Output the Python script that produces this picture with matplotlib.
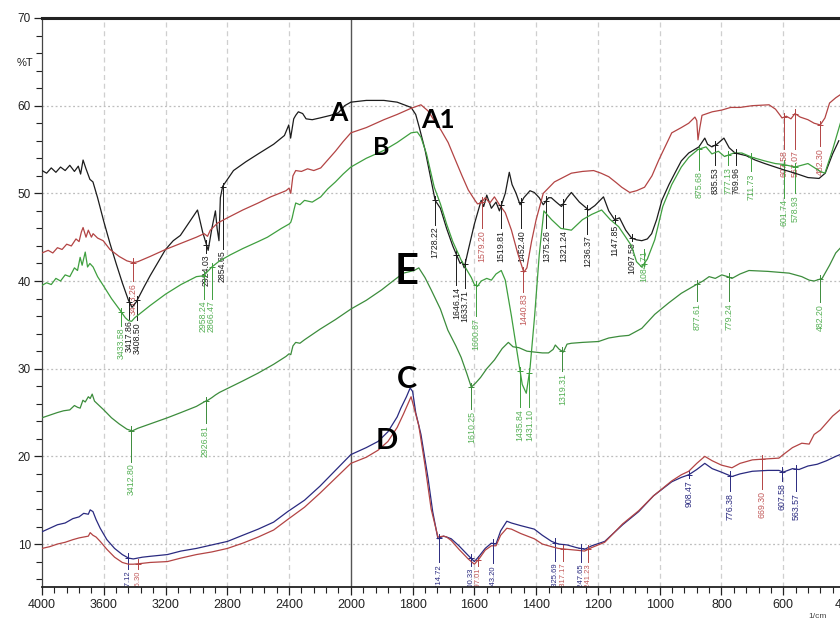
import matplotlib.pyplot as plt
import numpy as np
from matplotlib.ticker import FixedLocator

# spectra: wavenumber (1/cm) and %T
a_wn = [4000, 3970, 3940, 3910, 3880, 3850, 3820, 3790, 3765, 3750, 3734, 3715, 3690, 3670, 3640,
        3600, 3560, 3520, 3480, 3440, 3417, 3390, 3340, 3300, 3250, 3200, 3150, 3104, 3050, 2993,
        2960, 2924, 2900, 2877, 2866, 2854, 2845, 2830, 2760, 2680, 2600, 2500, 2430, 2402, 2390,
        2370, 2357, 2340, 2312, 2290, 2250, 2200, 2130, 2080, 2040, 2000, 1950, 1893, 1850, 1805,
        1790, 1779, 1760, 1740, 1727, 1710, 1690, 1670, 1646, 1640, 1633, 1620, 1600, 1578, 1570,
        1560, 1545, 1530, 1519, 1500, 1487, 1478, 1465, 1452, 1440, 1420, 1406, 1390, 1377, 1360,
        1351, 1335, 1318, 1300, 1286, 1260, 1230, 1210, 1182, 1165, 1146, 1130, 1110, 1091, 1075,
        1058, 1040, 1026, 1010, 993, 970, 951, 930, 906, 873, 854, 845, 831, 815, 792, 775, 756,
        720, 691, 660, 626, 600, 562, 520, 484, 464, 440, 420]
a_t = [52.6, 52.3, 52.9, 52.4, 53.0, 52.6, 53.2, 52.5, 53.1, 52.2, 53.8, 52.8, 51.6, 51.3, 49.5,
       46.8, 44.3, 42.0, 39.8, 37.8, 37.0, 37.6, 39.3, 40.6, 42.1, 43.6, 44.6, 45.2, 46.6, 48.1,
       45.6, 43.5, 46.0, 48.0, 46.0, 44.6, 49.5, 50.8, 52.6, 53.6, 54.5, 55.6, 56.6, 57.8, 56.3,
       58.5, 58.9, 59.3, 59.1, 58.5, 58.4, 58.6, 58.9, 59.2, 60.0, 60.4, 60.6, 60.6, 60.4, 59.8,
       59.0, 57.6, 55.0, 51.5, 49.2, 48.3, 46.0, 44.0, 42.0, 42.2, 41.5, 43.5, 46.5, 49.2, 48.5,
       49.8, 48.3, 49.0, 48.0, 50.0, 52.4, 51.0, 50.0, 48.7, 49.5, 50.3, 50.1, 49.5, 48.7, 49.5,
       49.5, 49.0, 48.5, 49.5, 50.1, 49.0, 48.1, 48.6, 49.6, 48.0, 47.0, 47.2, 45.8, 44.9, 44.7,
       44.6, 44.8, 45.4, 47.0, 49.2, 51.0, 52.3, 53.7, 54.6, 55.3, 56.3, 55.6, 55.3, 55.6, 56.3,
       55.2, 54.6, 54.3, 53.8, 53.4, 53.0, 52.7, 52.3, 51.8, 51.7, 52.3, 54.5, 56.0]

a1_wn = [4000, 3960, 3930, 3900, 3870, 3840, 3810, 3780, 3760, 3745, 3734, 3715, 3700, 3680, 3669,
         3640, 3604, 3560, 3500, 3450, 3409, 3380, 3300, 3200, 3100, 3000, 2950, 2928, 2910, 2864,
         2800, 2700, 2600, 2519, 2420, 2400, 2389, 2375, 2357, 2320, 2280, 2240, 2195, 2150, 2100,
         2050, 2000, 1950, 1893, 1850, 1805, 1773, 1750, 1730, 1708, 1685, 1665, 1640, 1620, 1600,
         1590, 1578, 1565, 1550, 1535, 1519, 1500, 1480, 1460, 1440, 1430, 1415, 1400, 1377, 1341,
         1286, 1250, 1214, 1190, 1165, 1140, 1123, 1097, 1075, 1049, 1025, 1003, 980, 961, 930,
         906, 886, 880, 876, 870, 863, 830, 799, 770, 740, 700, 646, 625, 610, 604, 590, 575, 562,
         545, 520, 500, 480, 465, 450, 430, 409]
a1_t = [43.2, 43.5, 43.2, 43.8, 43.6, 44.2, 44.0, 44.8, 44.5, 45.6, 46.1, 45.0, 45.8, 45.0, 45.4,
        44.9, 44.6, 43.6, 42.8, 42.3, 42.1, 42.2, 42.8, 43.6, 44.3, 45.0, 45.4, 45.1, 45.8, 46.6,
        47.2, 48.1, 48.9, 49.6, 50.3, 50.6, 50.0, 52.0, 52.6, 52.5, 52.8, 52.6, 52.9, 53.8, 54.8,
        55.9, 56.9, 57.5, 58.4, 59.0, 59.7, 60.1, 59.4, 58.3, 57.2, 55.8, 54.1, 52.0, 50.4, 49.3,
        48.8, 48.9, 49.5, 48.9, 49.6, 48.7, 47.8, 45.8, 43.2, 41.0, 41.5, 44.5, 47.0, 50.0, 51.3,
        52.3, 52.5, 52.6, 52.3, 51.9, 51.2, 50.7, 50.1, 50.3, 50.7, 52.0, 53.8, 55.5, 56.9, 57.5,
        58.0, 58.7, 58.3, 56.1, 57.5, 58.9, 59.3, 59.5, 59.8, 59.8, 60.0, 60.1, 59.6, 58.9, 58.6,
        58.8, 58.5, 59.1, 58.7, 58.4, 58.0, 57.8, 58.6, 60.3, 60.9, 61.4]

b_wn = [4000, 3970, 3940, 3910, 3880, 3850, 3820, 3790, 3770, 3753, 3740, 3720, 3705, 3690, 3669,
        3640, 3600, 3550, 3500, 3460, 3441, 3420, 3400, 3300, 3200, 3100, 3000, 2954, 2900, 2850,
        2779, 2700, 2600, 2540, 2450, 2400, 2389, 2380, 2370, 2357, 2330, 2300, 2250, 2195, 2150,
        2100, 2050, 2000, 1950, 1893, 1850, 1805, 1785, 1773, 1755, 1730, 1710, 1690, 1670, 1643,
        1625, 1610, 1600, 1590, 1578, 1560, 1545, 1530, 1513, 1500, 1480, 1460, 1445, 1432, 1420,
        1405, 1390, 1375, 1350, 1320, 1286, 1250, 1220, 1188, 1160, 1133, 1110, 1091, 1075, 1058,
        1040, 1016, 990, 961, 930, 906, 876, 850, 831, 810, 790, 760, 734, 700, 660, 626, 600,
        562, 520, 480, 465, 440, 415]
b_t = [39.5, 39.8, 39.6, 40.3, 40.0, 40.7, 40.5, 41.5, 41.2, 42.7, 41.8, 43.3, 41.6, 42.0, 41.6,
       40.5, 39.4, 38.0, 36.8, 35.8, 35.5, 35.4, 35.8, 37.2, 38.5, 39.6, 40.5, 40.6, 41.6, 42.3,
       43.0, 43.7, 44.5, 45.0, 46.0, 46.5, 46.7, 47.2, 48.0, 48.9, 48.7, 49.2, 49.0, 49.6, 50.5,
       51.3, 52.2, 53.0, 54.0, 54.9, 55.8, 56.9, 57.0, 56.4, 54.5, 50.7, 48.8, 46.5, 44.5, 42.4,
       41.3, 40.4, 39.6, 39.4, 40.0, 40.3, 40.1, 40.8, 41.2, 40.1, 36.0, 31.5, 28.2, 27.2, 30.0,
       36.0, 43.0, 48.0, 47.0, 46.0, 45.8, 47.0, 47.6, 48.1, 47.0, 46.2, 45.0, 44.0, 42.2, 41.6,
       42.5, 44.7, 48.5, 51.0, 53.0, 54.1, 55.0, 55.3, 54.5, 54.8, 54.2, 54.6, 54.6, 54.1, 53.7,
       53.4, 53.3, 53.0, 53.4, 52.5, 52.3, 55.0, 58.0]

e_wn = [4000, 3950, 3900, 3860, 3820, 3790, 3770, 3753, 3735, 3720, 3700, 3688, 3675, 3660, 3636,
        3600, 3550, 3500, 3450, 3416, 3380, 3300, 3188, 3100, 3000, 2941, 2926, 2900, 2877, 2850,
        2700, 2600, 2500, 2420, 2400, 2389, 2375, 2357, 2330, 2300, 2200, 2100, 2000, 1950, 1900,
        1860, 1830, 1795, 1780, 1760, 1740, 1710, 1686, 1660, 1643, 1625, 1610, 1595, 1580, 1560,
        1535, 1510, 1490, 1475, 1456, 1430, 1406, 1380, 1360, 1345, 1338, 1325, 1312, 1300, 1286,
        1250, 1198, 1165, 1130, 1100, 1058, 1016, 971, 930, 886, 860, 840, 820, 799, 780, 766,
        740, 711, 650, 581, 540, 516, 500, 474, 450, 430, 409]
e_t = [24.4, 24.7, 25.0, 25.2, 25.3, 25.8, 25.6, 25.5, 26.4, 26.2, 26.8, 26.6, 27.1, 26.3, 25.9,
       25.3, 24.4, 23.7, 23.1, 22.9, 23.2, 23.7, 24.4, 25.0, 25.7, 26.3, 26.4, 26.7, 27.0, 27.3,
       28.6, 29.5, 30.5, 31.4, 31.7, 31.6, 32.6, 33.0, 32.9, 33.3, 34.5, 35.6, 36.8, 37.8, 39.0,
       40.1, 40.9, 41.2, 41.5, 40.4, 39.0, 36.8, 34.4, 32.6, 31.3, 29.5, 27.9, 28.4, 29.0, 30.0,
       31.0, 32.3, 33.0, 32.5, 32.4, 32.0, 31.9, 31.8, 31.8, 32.2, 32.7, 32.2, 31.9, 32.8, 32.9,
       33.0, 33.1, 33.5, 33.7, 33.8, 34.6, 36.2, 37.5, 38.6, 39.5, 40.0, 40.5, 40.3, 40.7, 40.5,
       40.3, 40.8, 41.2, 41.1, 40.9, 40.5, 40.1, 40.0, 40.3, 41.8, 43.2, 44.0]

c_wn = [4000, 3950, 3900, 3850, 3800, 3760, 3730, 3700, 3688, 3670, 3650, 3623, 3580, 3530, 3480,
        3440, 3409, 3350, 3300, 3188, 3100, 3000, 2900, 2799, 2700, 2600, 2500, 2409, 2300, 2200,
        2100, 2000, 1950, 1912, 1880, 1850, 1838, 1820, 1808, 1800, 1790, 1773, 1750, 1735, 1718,
        1700, 1690, 1675, 1650, 1620, 1600, 1585, 1565, 1545, 1530, 1515, 1495, 1480, 1450, 1406,
        1380, 1350, 1328, 1300, 1270, 1243, 1220, 1178, 1120, 1068, 1020, 961, 930, 906, 880,
        854, 830, 800, 766, 740, 700, 650, 614, 600, 570, 549, 520, 490, 460, 430, 409]
c_t = [11.4, 11.8, 12.2, 12.4, 12.9, 13.1, 13.5, 13.4, 13.9, 13.7, 12.8, 11.8, 10.5, 9.5, 8.8,
       8.4, 8.3, 8.5, 8.6, 8.8, 9.2, 9.5, 9.9, 10.3, 11.0, 11.7, 12.5, 13.7, 15.0, 16.6,
       18.4, 20.2, 21.0, 21.7, 22.8, 24.5, 25.5, 26.8, 27.8, 27.4, 25.0, 22.5, 17.5, 13.7, 10.6,
       10.9, 10.8, 10.6, 9.8, 8.7, 8.0, 8.6, 9.5, 10.1, 10.0, 11.5, 12.6, 12.4, 12.1, 11.7,
       11.0, 10.3, 10.0, 9.9, 9.6, 9.4, 9.8, 10.3, 12.2, 13.7, 15.5, 17.1, 17.6, 17.9, 18.5,
       19.2, 18.6, 18.2, 17.7, 18.0, 18.3, 18.4, 18.4, 18.2, 18.6, 18.5, 18.9, 19.1, 19.5, 20.0, 20.3]

d_wn = [4000, 3950, 3900, 3850, 3800, 3760, 3730, 3700, 3688, 3670, 3650, 3623, 3580, 3530, 3480,
        3440, 3409, 3350, 3300, 3188, 3100, 3000, 2900, 2799, 2700, 2600, 2500, 2409, 2300, 2200,
        2100, 2000, 1950, 1912, 1880, 1850, 1830, 1815, 1805, 1795, 1780, 1760, 1740, 1718, 1700,
        1690, 1675, 1650, 1620, 1600, 1585, 1565, 1545, 1530, 1515, 1495, 1480, 1450, 1406, 1380,
        1350, 1328, 1300, 1270, 1243, 1220, 1178, 1120, 1068, 1020, 961, 930, 906, 880, 854, 830,
        800, 766, 740, 700, 660, 614, 600, 570, 540, 516, 500, 480, 460, 440, 409]
d_t = [9.5, 9.7, 10.0, 10.2, 10.5, 10.7, 10.8, 10.9, 11.3, 11.0, 10.8, 10.3, 9.4, 8.5, 7.9,
       7.7, 7.7, 7.8, 7.9, 8.0, 8.4, 8.8, 9.1, 9.5, 10.1, 10.8, 11.6, 12.8, 14.2, 15.8,
       17.5, 19.2, 19.9, 20.7, 21.7, 23.3, 24.8, 26.0, 26.8, 25.5, 23.5, 19.0, 14.0, 10.8, 10.9,
       10.8, 10.4, 9.4, 8.3, 7.7, 8.3, 9.3, 9.8, 9.8, 11.0, 11.8, 11.7, 11.2, 10.6, 10.0,
       9.7, 9.5, 9.4, 9.3, 9.2, 9.6, 10.2, 12.3, 13.8, 15.5, 17.2, 17.9, 18.3, 19.2, 20.0, 19.5,
       19.0, 18.7, 19.2, 19.6, 19.7, 19.8, 20.2, 21.0, 21.5, 21.4, 22.5, 23.0, 23.8, 24.6, 25.5]

# peak labels: text, wavenumber, %T at top of the text, spectrum
peak_txt = ['3413.26', '3417.86', '3408.50', '3433.58', '2924.03', '2854.65', '2958.24', '2866.47',
            '1728.22', '1646.14', '1633.71', '1600.87', '1579.20', '1519.81', '1452.40', '1440.83',
            '1375.26', '1321.24', '1236.37', '1147.85', '1097.58', '1084.71', '875.68', '835.53',
            '777.13', '769.96', '711.73', '607.58', '567.07', '601.74', '578.93', '482.30',
            '3412.80', '2926.81', '1610.25', '1435.84', '1431.10', '1319.31', '877.61', '779.24',
            '482.20',
            '3417.12', '3406.30', '1714.72', '1600.33', '1597.01', '1543.20', '1325.69', '1317.17',
            '1247.65', '1241.23', '908.47', '776.38', '669.30', '607.58', '563.57']
peak_wn = [3409, 3435, 3383, 3487, 2935, 2831, 2954, 2902,
           1727, 1658, 1630, 1596, 1575, 1513, 1448, 1441,
           1367, 1312, 1234, 1146, 1091, 1052, 873, 821,
           780, 752, 704, 597, 562, 597, 562, 480,
           3422, 2941, 1610, 1452, 1422, 1315, 880, 776,
           480,
           3445, 3380, 1716, 1612, 1588, 1540, 1338, 1313,
           1256, 1232, 906, 773, 669, 604, 558]
peak_top = [39.8, 35.5, 35.3, 34.7, 43.0, 43.5, 37.8, 37.8,
            46.2, 39.3, 39.0, 35.8, 45.8, 45.8, 45.8, 38.6,
            45.8, 45.8, 45.2, 46.4, 44.4, 43.5, 52.5, 53.0,
            53.0, 53.0, 52.3, 54.9, 54.9, 49.3, 49.8, 55.2,
            19.2, 23.6, 25.2, 25.4, 25.4, 29.5, 37.5, 37.5,
            37.4,
            7.0, 7.0, 7.7, 7.3, 7.3, 7.6, 7.9, 7.9,
            7.8, 7.8, 17.3, 15.8, 16.1, 17.0, 15.8]
peak_of = ['A1', 'A', 'A', 'B', 'A', 'A', 'B', 'B',
           'A', 'A', 'A', 'B', 'A1', 'A', 'A', 'A1',
           'A', 'A', 'A', 'A', 'A', 'B', 'B', 'A',
           'B', 'A', 'B', 'A1', 'A1', 'B', 'B', 'A1',
           'E', 'E', 'E', 'B', 'B', 'E', 'E', 'E',
           'E',
           'C', 'D', 'C', 'C', 'D', 'C', 'C', 'D',
           'C', 'D', 'C', 'C', 'D', 'C', 'C']

spectra = {
    'A': (a_wn, a_t, '#1c1c1c', '#1c1c1c'),
    'A1': (a1_wn, a1_t, '#b34444', '#c25a5a'),
    'B': (b_wn, b_t, '#3f9f3f', '#55b055'),
    'E': (e_wn, e_t, '#3c8c3c', '#55b055'),
    'C': (c_wn, c_t, '#2a2a80', '#2a2a80'),
    'D': (d_wn, d_t, '#b34444', '#c25a5a'),
}

# big letters: text, wavenumber, %T, size
tag_txt = ['A', 'A1', 'B', 'E', 'C', 'D']
tag_wn = [2078, 1717, 1903, 1818, 1818, 1883]
tag_t = [59.2, 58.4, 55.2, 41.0, 28.8, 21.8]
tag_size = [19, 19, 18, 30, 22, 21]


def fwd(w):
    w = np.asarray(w, dtype=float)
    return np.where(w > 2000, 2000 + (w - 2000) / 2.0, w)


def inv(u):
    u = np.asarray(u, dtype=float)
    return np.where(u > 2000, 2000 + (u - 2000) * 2.0, u)


plt.rcParams['font.family'] = ['Liberation Sans Narrow', 'Liberation Sans', 'DejaVu Sans']

fig = plt.figure(figsize=(8.4, 6.22), dpi=100)
ax = fig.add_axes([42 / 840, 35 / 622, 803 / 840, 569 / 622])
ax.set_xscale('function', functions=(fwd, inv))
ax.set_xlim(4000, 400)
ax.set_ylim(5.1, 70)

# grid
for g in [3600, 3200, 2800, 2400, 1800, 1600, 1400, 1200, 1000, 800, 600]:
    ax.axvline(g, color='#cfcfcf', lw=0.9, ls=(0, (4, 3)), zorder=0)
ax.axvline(2000, color='#555555', lw=1.0, zorder=0)
for g in [10, 20, 30, 40, 50, 60]:
    ax.axhline(g, color='#bdbdbd', lw=0.9, ls=(0, (1.5, 2)), zorder=0)

for key, (wn, t, col, lcol) in spectra.items():
    ax.plot(wn, t, color=col, lw=0.9, zorder=3)

# peak markers and labels
for txt, w, top, key in zip(peak_txt, peak_wn, peak_top, peak_of):
    wn, t, col, lcol = spectra[key]
    yc = np.interp(w, wn[::-1], t[::-1])
    fs = 5.5 if top < 9 else 6.3
    ax.plot([w, w], [yc + 0.5, top + 0.2], color=col, lw=0.7, zorder=2)
    ax.plot(w, yc, marker='+', ms=5, mew=0.7, color=col, zorder=4)
    ax.text(w, top, txt, rotation=90, ha='center', va='top', fontsize=fs,
            color=lcol, clip_on=True, zorder=2)

for txt, w, t, s in zip(tag_txt, tag_wn, tag_t, tag_size):
    ax.text(w, t, txt, fontsize=s, fontweight='bold', family='Lato',
            ha='center', va='center', color='black', zorder=5)

ax.xaxis.set_major_locator(FixedLocator([4000, 3600, 3200, 2800, 2400, 2000, 1800, 1600,
                                         1400, 1200, 1000, 800, 600, 400]))
ax.xaxis.set_minor_locator(FixedLocator(list(range(2080, 4000, 80)) + list(range(440, 2000, 40))))
ax.xaxis.set_major_formatter(plt.FuncFormatter(lambda v, p: '%d' % round(v)))
ax.yaxis.set_major_locator(FixedLocator([10, 20, 30, 40, 50, 60, 70]))
ax.yaxis.set_minor_locator(FixedLocator(list(range(6, 70, 2))))

ax.tick_params(axis='x', which='major', length=6, width=0.9, labelsize=9, pad=3, colors='#222222')
ax.tick_params(axis='x', which='minor', length=4, width=0.8, colors='#222222')
ax.tick_params(axis='y', which='major', length=6, width=0.9, labelsize=8.5, pad=2, colors='#222222')
ax.tick_params(axis='y', which='minor', length=4, width=0.8, colors='#222222')

ax.spines['top'].set_linewidth(2.2)
ax.spines['top'].set_color('#222222')
ax.spines['left'].set_linewidth(0.9)
ax.spines['left'].set_color('#444444')
ax.spines['bottom'].set_linewidth(1.3)
ax.spines['bottom'].set_color('#222222')
ax.spines['right'].set_visible(False)

fig.text(25 / 840, 1 - 63 / 622, '%T', fontsize=8, color='#222222', ha='center', va='center')
fig.text(818 / 840, 1 - 616 / 622, '1/cm', fontsize=6, color='#444444', ha='center', va='center')

fig.savefig('out.png', dpi=100)
